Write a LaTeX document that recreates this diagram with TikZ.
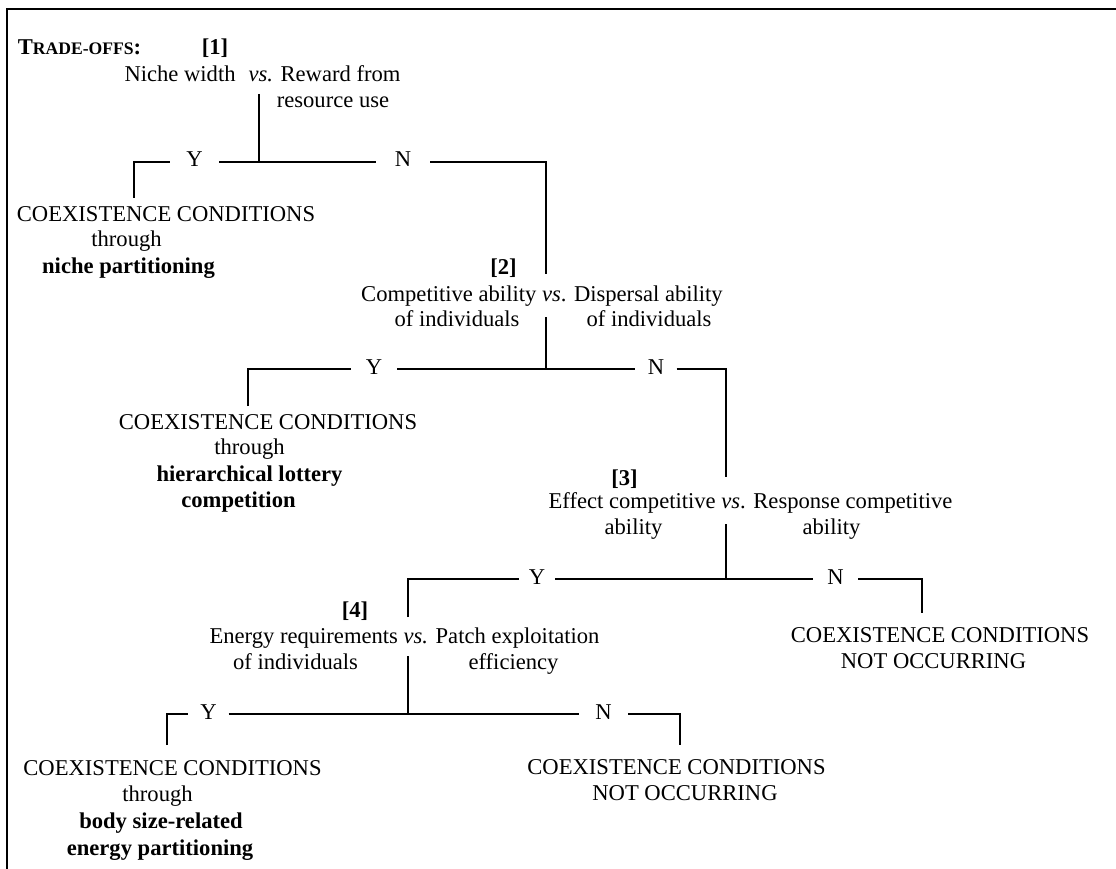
\documentclass[tikz,border=0pt]{standalone}
\usepackage{fontspec}
\setmainfont{Liberation Serif}
\tikzset{
  txt/.style={anchor=base, inner sep=0pt, font=\fontsize{22.6}{26}\selectfont},
  boldtxt/.style={anchor=base, inner sep=0pt, font=\fontsize{22.6}{26}\selectfont\bfseries},
  lbl/.style={inner sep=0pt, text height=10pt, text depth=0pt, minimum width=#1, font=\fontsize{22.6}{26}\selectfont},
  conn/.style={line width=2.9pt, line join=miter},
  framestyle/.style={line width=1.8pt},
}
\begin{document}
\begin{tikzpicture}[x=1pt,y=-1pt]
\useasboundingbox (0,0) rectangle (1116,869);
% frame
\coordinate (fTR) at (1116,9.3);
\coordinate (fTL) at (6.7,9.3);
\coordinate (fBL) at (6.7,869);
\draw[framestyle] (fTR) -- (fTL) -- (fBL);

% title and node 1
\node[txt] (title) at (79.5,55) {\bfseries T{\fontsize{17.6}{20}\selectfont RADE-OFFS}:};
\node[boldtxt] (q1) at (215,55) {[1]};
\node[txt] (t1a) at (262.5,82) {Niche width\hspace{13pt}\textit{vs.} Reward from};
\node[txt] (t1b) at (333,108) {resource use};

% leaf 1
\node[txt] (l1a) at (166,222) {COEXISTENCE CONDITIONS};
\node[txt] (l1b) at (126.5,247) {through};
\node[boldtxt] (l1c) at (128.5,273) {niche partitioning};

% node 2
\node[boldtxt] (q2) at (503.5,274) {[2]};
\node[txt] (t2a) at (542,301) {Competitive ability \textit{vs}. Dispersal ability};
\node[txt] (t2b) at (457,326) {of individuals};
\node[txt] (t2c) at (649,326) {of individuals};

% leaf 2
\node[txt] (l2a) at (268,429) {COEXISTENCE CONDITIONS};
\node[txt] (l2b) at (249.5,454) {through};
\node[boldtxt] (l2c) at (249.5,481) {hierarchical lottery};
\node[boldtxt] (l2d) at (238.5,507) {competition};

% node 3
\node[boldtxt] (q3) at (624.5,485) {[3]};
\node[txt] (t3a) at (750.5,508) {Effect competitive \textit{vs}. Response competitive};
\node[txt] (t3b) at (633.5,534) {ability};
\node[txt] (t3c) at (831.5,534) {ability};

% leaf 3
\node[txt] (l3a) at (940,642) {COEXISTENCE CONDITIONS};
\node[txt] (l3b) at (933.5,668) {NOT OCCURRING};

% node 4
\node[boldtxt] (q4) at (355,617) {[4]};
\node[txt] (t4a) at (404.5,643) {Energy requirements \textit{vs.} Patch exploitation};
\node[txt] (t4b) at (295.5,669) {of individuals};
\node[txt] (t4c) at (513.5,669) {efficiency};

% leaf 4a
\node[txt] (l4a) at (172.5,775) {COEXISTENCE CONDITIONS};
\node[txt] (l4b) at (157.5,801) {through};
\node[boldtxt] (l4c) at (161,828) {body size-related};
\node[boldtxt] (l4d) at (160,855) {energy partitioning};

% leaf 4b
\node[txt] (l5a) at (676.5,774) {COEXISTENCE CONDITIONS};
\node[txt] (l5b) at (685,800) {NOT OCCURRING};

% Y / N labels
\node[lbl=49pt] (y1) at (194.5,162) {Y};
\node[lbl=54pt] (n1) at (403,162) {N};
\node[lbl=46pt] (y2) at (374,369) {Y};
\node[lbl=41pt] (n2) at (656,369) {N};
\node[lbl=36pt] (y3) at (537,579) {Y};
\node[lbl=45pt] (n3) at (835.5,579) {N};
\node[lbl=40pt] (y4) at (208.5,714) {Y};
\node[lbl=49pt] (n4) at (603.5,714) {N};

% junction coordinates
\coordinate (j1top) at (259,94);   \coordinate (j1) at (259,162);
\coordinate (c1L) at (134,162);    \coordinate (c1Ld) at (134,198);
\coordinate (c1R) at (546,162);    \coordinate (c1Rd) at (546,274);
\coordinate (j2top) at (546,317);  \coordinate (j2) at (546,369);
\coordinate (c2L) at (248,369);    \coordinate (c2Ld) at (248,406);
\coordinate (c2R) at (726,369);    \coordinate (c2Rd) at (726,477);
\coordinate (j3top) at (726,524);  \coordinate (j3) at (726,579);
\coordinate (c3L) at (408,579);    \coordinate (c3Ld) at (408,617);
\coordinate (c3R) at (922,579);    \coordinate (c3Rd) at (922,613);
\coordinate (j4top) at (408,656);  \coordinate (j4) at (408,714);
\coordinate (c4L) at (167,714);    \coordinate (c4Ld) at (167,745);
\coordinate (c4R) at (680,714);    \coordinate (c4Rd) at (680,745);

% decision 1
\draw[conn] (j1top) -- (j1);
\draw[conn] (c1Ld) -- (c1L) -- (c1L -| y1.west);
\draw[conn] (y1.east |- c1L) -- (n1.west |- c1L);
\draw[conn] (n1.east |- c1R) -- (c1R) -- (c1Rd);
% decision 2
\draw[conn] (j2top) -- (j2);
\draw[conn] (c2Ld) -- (c2L) -- (c2L -| y2.west);
\draw[conn] (y2.east |- c2L) -- (n2.west |- c2L);
\draw[conn] (n2.east |- c2R) -- (c2R) -- (c2Rd);
% decision 3
\draw[conn] (j3top) -- (j3);
\draw[conn] (c3Ld) -- (c3L) -- (c3L -| y3.west);
\draw[conn] (y3.east |- c3L) -- (n3.west |- c3L);
\draw[conn] (n3.east |- c3R) -- (c3R) -- (c3Rd);
% decision 4
\draw[conn] (j4top) -- (j4);
\draw[conn] (c4Ld) -- (c4L) -- (c4L -| y4.west);
\draw[conn] (y4.east |- c4L) -- (n4.west |- c4L);
\draw[conn] (n4.east |- c4R) -- (c4R) -- (c4Rd);
\end{tikzpicture}
\end{document}
